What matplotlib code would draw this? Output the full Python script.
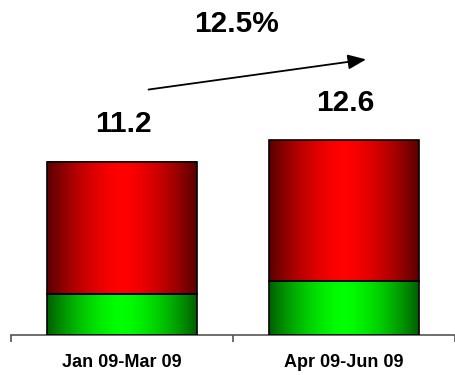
import numpy as np
import matplotlib.pyplot as plt
from matplotlib.colors import LinearSegmentedColormap

# data
categories = ["Jan 09-Mar 09", "Apr 09-Jun 09"]
green_vals = [2.65, 3.5]
red_vals = [8.55, 9.1]
totals = [11.2, 12.6]
growth_label = "12.5%"

plt.rcParams["font.family"] = ["Liberation Sans", "DejaVu Sans"]


def gradient_bar(ax, x, bottom, height, width, cmap):
    t = np.linspace(0, 1, 256)
    v = 1 - np.abs(2 * t - 1) ** 1.6
    img = v[np.newaxis, :]
    ax.imshow(img, cmap=cmap, vmin=0, vmax=1, aspect="auto", interpolation="bilinear",
              extent=[x - width / 2, x + width / 2, bottom, bottom + height], zorder=2)
    ax.bar(x, height, width, bottom=bottom, fill=False, edgecolor="black", linewidth=1.2, zorder=3)


red_cmap = LinearSegmentedColormap.from_list("red_cyl", ["#5a0000", "#ff0000"])
green_cmap = LinearSegmentedColormap.from_list("green_cyl", ["#006000", "#00ff00"])

fig = plt.figure(figsize=(4.55, 3.75), dpi=100)
ax = fig.add_axes([11 / 455, 40 / 375, 444 / 455, 335 / 375])

x = np.arange(len(categories))
width = 0.674
for i in x:
    gradient_bar(ax, i, 0, green_vals[i], width, green_cmap)
    gradient_bar(ax, i, green_vals[i], red_vals[i], width, red_cmap)
    ax.annotate(f"{totals[i]:.1f}", (i, totals[i]), xytext=(1, 27), textcoords="offset points",
                ha="center", va="center", fontsize=21.5, fontweight="bold")

ax.set_xlim(-0.5, 1.482)
ax.set_ylim(0, 21.68)

# growth arrow
ax.annotate("", xy=(1.112, 17.86), xytext=(0.107, 15.86),
            arrowprops=dict(arrowstyle="-|>,head_length=1.1,head_width=0.45", color="black", lw=1.3))
ax.text(0.518, 20.13, growth_label, ha="center", va="center", fontsize=21.5, fontweight="bold")

for s in ["top", "right", "left"]:
    ax.spines[s].set_visible(False)
ax.spines["bottom"].set_color("#555555")
ax.spines["bottom"].set_linewidth(1.2)
ax.set_yticks([])
ax.set_xticks([-0.5, 0.5, 1.5])
ax.set_xticklabels([])
ax.tick_params(axis="x", which="major", length=5, width=1.2, color="#555555", direction="out")
ax.set_xticks(x, minor=True)
ax.set_xticklabels(categories, minor=True, fontsize=13, fontweight="bold")
ax.tick_params(axis="x", which="minor", length=0, pad=13.5)

fig.savefig("out.png", dpi=100)
